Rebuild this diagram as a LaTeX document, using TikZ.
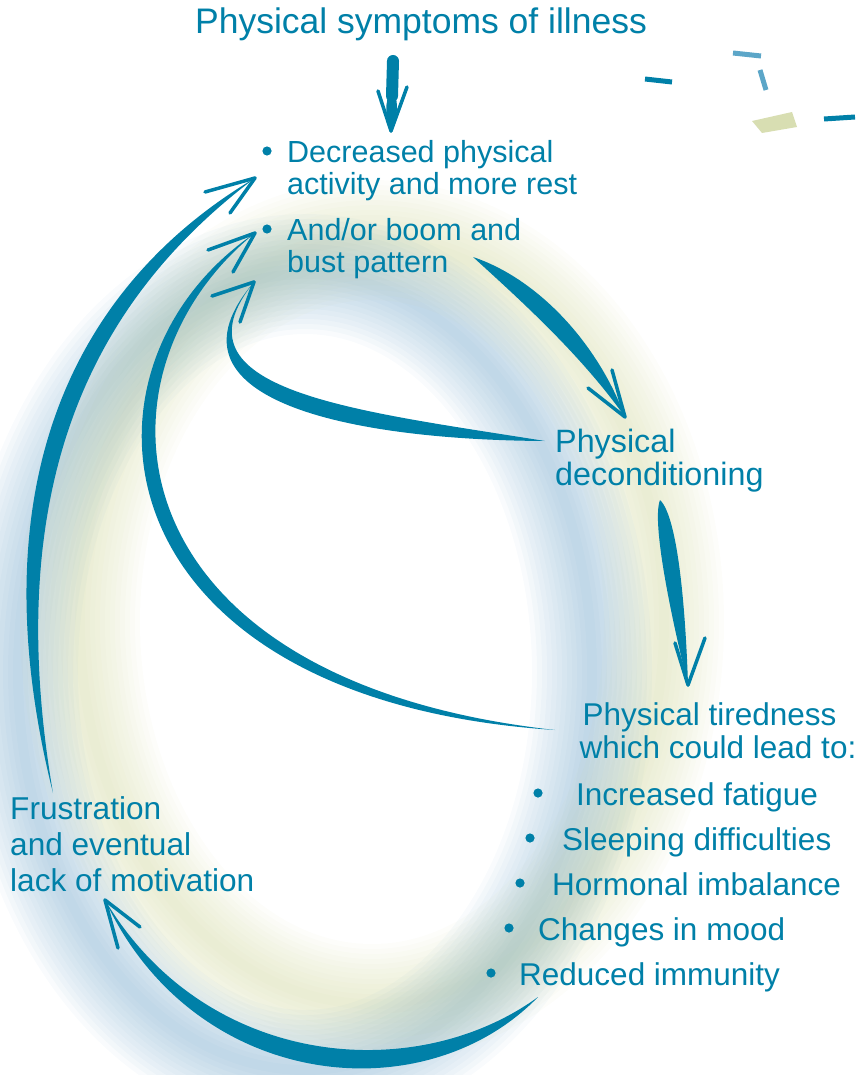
\documentclass[tikz,border=0pt]{standalone}
\usepackage{fontspec}
\setmainfont{Liberation Sans}
\usetikzlibrary{calc}

\definecolor{teal0}{RGB}{0,128,168}
\definecolor{lightteal}{RGB}{92,166,200}
\definecolor{sage}{RGB}{216,222,178}
\definecolor{glowblue}{RGB}{105,160,198}
\definecolor{glowyellow}{RGB}{205,212,150}

% tapered brush stroke: tail, ctrl 1, ctrl 2, tip, half width 1, half width 2
\newcommand{\brush}[6]{%
	\coordinate (bn1) at ($(#1)!#5!90:(#3)$);
	\coordinate (bn2) at ($(#2)!#6!90:(#4)$);
	\fill[teal0] (#1) .. controls ($(#2)+(bn1)-(#1)$) and ($(#3)+(bn2)-(#2)$) .. (#4)
		.. controls ($(#3)-(bn2)+(#2)$) and ($(#2)-(bn1)+(#1)$) .. (#1);
}

\begin{document}
\begin{tikzpicture}[x=1pt,y=-1pt,
	txt/.style={text=teal0,inner sep=0pt,align=left,font=\fontsize{30.5}{32}\selectfont},
	big/.style={font=\fontsize{31.5}{33}\selectfont},
	barb/.style={draw=teal0,line width=3.5pt,line cap=round},
	confetti/.style={line width=5pt}]
	\useasboundingbox (0,0) rectangle (867,1075);
	
	%GLOW
	\foreach \w in {10,20,...,120}{
		\draw[glowyellow,line width=\w pt,opacity=0.045] (372,622) ellipse [x radius=292pt,y radius=382pt];
		\draw[glowblue,line width=\w pt,opacity=0.045] (305,672) ellipse [x radius=287pt,y radius=398pt];
	}
	
	%CONFETTI
	\draw[confetti,teal0] (645,79) -- (672,82);
	\draw[confetti,lightteal] (733,53) -- (761,56);
	\draw[confetti,lightteal] (760,70) -- (766,90);
	\fill[sage] (752,121) -- (792,112) -- (797,127) -- (762,133) -- cycle;
	\draw[confetti,teal0] (824,119) -- (855,117);
	
	%TEXTS
	\node[txt,anchor=base,font=\fontsize{35.5}{38}\selectfont] (symptoms) at (421,34) {Physical symptoms of illness};
	\node[txt,anchor=north west] (decreased) at (287,140) {Decreased physical\\activity and more rest};
	\node[txt,anchor=north west] (boom) at (287,218) {And/or boom and\\bust pattern};
	\node[txt,anchor=north west,font=\fontsize{32.3}{33}\selectfont] (decond) at (555,429) {Physical\\deconditioning};
	\node[txt,big,anchor=north,align=center] (tired) at (718,702) {Physical tiredness\hspace*{17pt}\\which could lead to:};
	\node[txt,big,anchor=base west] (fatigue) at (576,805) {Increased fatigue};
	\node[txt,big,anchor=base west] (sleeping) at (562,850) {Sleeping difficulties};
	\node[txt,big,anchor=base west] (hormonal) at (552,895) {Hormonal imbalance};
	\node[txt,big,anchor=base west] (mood) at (538,940) {Changes in mood};
	\node[txt,big,anchor=base west] (immunity) at (519,985) {Reduced immunity};
	\node[txt,anchor=north west,font=\fontsize{31.6}{36}\selectfont] (frustration) at (10,796) {Frustration\\and eventual\\lack of motivation};
	
	%BULLETS
	\foreach \p in {(267,151),(267,229),(538,793),(530,838),(520,883),(509,928),(491,973)}
		\fill[teal0] \p circle (4.6pt);
	
	%ARROWS
	\coordinate (symTail) at (393,61);
	\coordinate (symTip) at (391,131);
	\coordinate (bustTail) at (473,257);
	\coordinate (decondTip) at (625,417);
	\coordinate (decondTail) at (545,441);
	\coordinate (bustTip) at (254,282);
	\coordinate (decondOut) at (660,500);
	\coordinate (tiredTip) at (688,685);
	\coordinate (tiredTail) at (555,730);
	\coordinate (boomTip) at (255,233);
	\coordinate (frusTail) at (53,793);
	\coordinate (decrTip) at (255,178);
	\coordinate (immunTail) at (538,997);
	\coordinate (frusTip) at (105,900);
	
	\draw[teal0,line width=12pt,line cap=round] (symTail) -- (392,96);
	\brush{392,88}{392,104}{391,118}{symTip}{9pt}{5pt}
	\draw[barb] (symTip) -- ++(-13,-40);
	\draw[barb] (symTip) -- ++(16,-44);
	
	\brush{bustTail}{530,290}{590,350}{decondTip}{14pt}{10pt}
	\draw[barb] (decondTip) -- ++(-37,-29);
	\draw[barb] (decondTip) -- ++(-13,-47);
	
	\brush{decondTail}{350,425}{160,395}{bustTip}{15pt}{8pt}
	\draw[barb] (bustTip) -- ++(-42,14);
	\draw[barb] (bustTip) -- ++(-14,40);
	
	\brush{decondOut}{665,520}{679,620}{tiredTip}{14pt}{7pt}
	\draw[barb] (tiredTip) -- ++(-13,-42);
	\draw[barb] (tiredTip) -- ++(17,-47);
	
	\brush{tiredTail}{100,690}{70,370}{boomTip}{12pt}{12pt}
	\draw[barb] (boomTip) -- ++(-47,17);
	\draw[barb] (boomTip) -- ++(-22,39);
	
	\brush{frusTail}{-15,470}{95,285}{decrTip}{13pt}{11pt}
	\draw[barb] (decrTip) -- ++(-50,14);
	\draw[barb] (decrTip) -- ++(-25,35);
	
	\brush{immunTail}{420,1100}{200,1080}{frusTip}{15pt}{12pt}
	\draw[barb] (frusTip) -- ++(35,27);
	\draw[barb] (frusTip) -- ++(13,48);
\end{tikzpicture}
\end{document}
